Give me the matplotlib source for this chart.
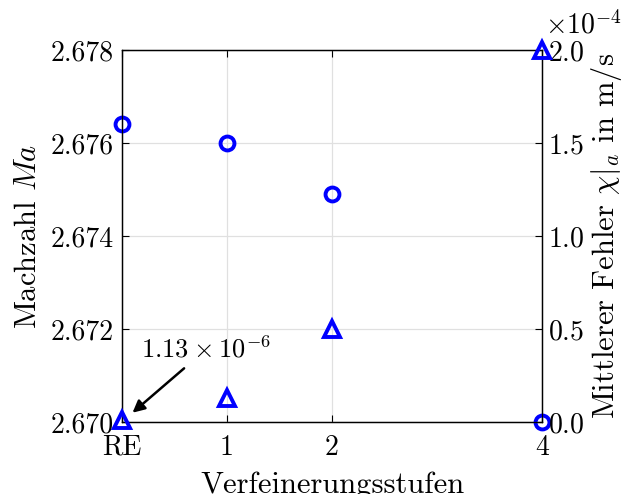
import matplotlib
matplotlib.use("Agg")
import matplotlib.pyplot as plt
from matplotlib.ticker import FormatStrFormatter, ScalarFormatter

plt.rcParams['font.family'] = 'serif'
plt.rcParams['font.serif'] = ['cmr10']
plt.rcParams['mathtext.fontset'] = 'cm'
plt.rcParams['axes.formatter.use_mathtext'] = True

levels = ['RE', '1', '2', '4']
x_pos = [0, 1, 2, 4]
mach = [2.6764, 2.6760, 2.6749, 2.6700]
error = [1.13e-6, 0.13e-4, 0.50e-4, 2.0e-4]

blue = (0, 0, 1)

fig = plt.figure(figsize=(6.25, 4.94), dpi=100)
ax = fig.add_axes([0.1952, 0.1457, 0.672, 0.7531])
ax2 = ax.twinx()

ax.plot(x_pos, mach, 'o', ms=10, mfc='none', mec=blue, mew=2.8, clip_on=False, zorder=5)
ax2.plot(x_pos, error, '^', ms=11.5, mfc='none', mec=blue, mew=2.8, clip_on=False, zorder=5)

ax.set_xlim(0, 4)
ax.set_ylim(2.670, 2.678)
ax.set_xticks(x_pos)
ax.set_xticklabels(levels)
ax.set_yticks([2.670, 2.672, 2.674, 2.676, 2.678])
ax.yaxis.set_major_formatter(FormatStrFormatter('%.3f'))

ax2.set_ylim(0, 2.0e-4)
ax2.set_yticks([0, 0.5e-4, 1.0e-4, 1.5e-4, 2.0e-4])
fmt = ScalarFormatter(useMathText=True)
fmt.set_powerlimits((0, 0))
ax2.yaxis.set_major_formatter(fmt)
ax2.yaxis.OFFSETTEXTPAD = 12
off = ax2.yaxis.get_offset_text()
off.set_fontsize(20)
off.set_horizontalalignment('left')
off.set_x(1.008)

ax.grid(True, color='#e0e0e0', lw=0.9)
ax.set_axisbelow(True)
ax.tick_params(axis='x', pad=9)
ax.tick_params(direction='in', labelsize=20, top=True, length=5, width=0.8)
ax.tick_params(axis='y', pad=6)
ax2.tick_params(direction='in', labelsize=20, length=5, width=0.8, pad=4)

ax.set_xlabel('Verfeinerungsstufen', fontsize=22, labelpad=8)
ax.set_ylabel(r'Machzahl $Ma$', fontsize=22, labelpad=6)
ax2.set_ylabel(r'Mittlerer Fehler $\chi|_a$ in m/s', fontsize=22, labelpad=4)

for a in (ax, ax2):
    for s in a.spines.values():
        s.set_linewidth(0.9)

ax2.annotate(r'$1.13\:\times\:10^{-6}$', xy=(0.1, 0.05e-4), xytext=(0.8, 0.39e-4),
             fontsize=19, ha='center', va='center',
             arrowprops=dict(arrowstyle='-|>', color='black', lw=1.8, mutation_scale=18,
                             shrinkA=3, shrinkB=0))

fig.savefig('out.png', dpi=100)
